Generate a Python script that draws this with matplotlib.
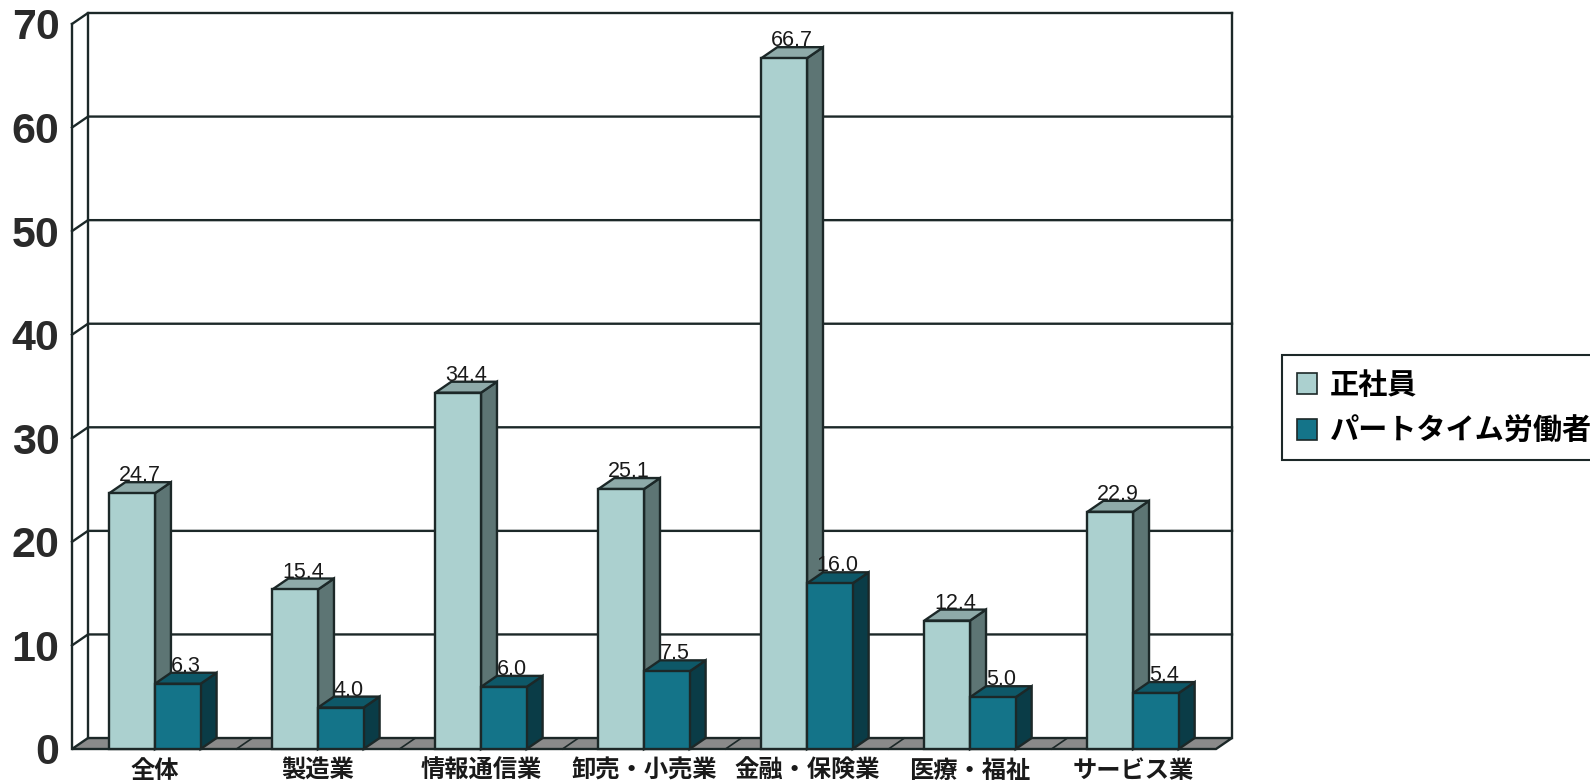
import matplotlib
matplotlib.use("Agg")
import matplotlib.pyplot as plt
from matplotlib.patches import Polygon, Patch
from matplotlib import font_manager

# data
categories = ["全体", "製造業", "情報通信業", "卸売・小売業", "金融・保険業", "医療・福祉", "サービス業"]
seishain = [24.7, 15.4, 34.4, 25.1, 66.7, 12.4, 22.9]
part_time = [6.3, 4.0, 6.0, 7.5, 16.0, 5.0, 5.4]
series_names = ["正社員", "パートタイム労働者"]
y_ticks = [0, 10, 20, 30, 40, 50, 60, 70]

# fonts
installed = {f.name for f in font_manager.fontManager.ttflist}
narrow = next((f for f in ["Liberation Sans Narrow", "Liberation Sans", "DejaVu Sans"]
               if f in installed), "DejaVu Sans")
jp = ["Noto Sans CJK JP", "DejaVu Sans"]

# colours: (front, top, side)
light = ("#abd0cf", "#8eaaa9", "#5d7574")
dark = ("#147489", "#0e5868", "#0a3c47")
edge = "#1c2828"
floor_col = "#8a8a8a"

# 3D depth offsets in data units
dx, dy = 0.098, 1.06
x_left, x_right = -0.509, 6.607
bar_w = 0.28

fig = plt.figure(figsize=(15.9, 7.84), dpi=100)
ax = fig.add_axes([72 / 1590, 1 - 749 / 784, 1160 / 1590, 736 / 784])
ax.set_xlim(x_left, x_right)
ax.set_ylim(0, 70 + dy)
for s in ax.spines.values():
    s.set_visible(False)

lw = 1.7
xf_right = x_right - dx

# floor
ax.add_patch(Polygon([(x_left, 0), (xf_right, 0), (x_right, dy), (x_left + dx, dy)],
                     closed=True, facecolor=floor_col, edgecolor=edge, lw=lw, clip_on=False, zorder=1))
for i in range(len(categories) - 1):
    b = i + 0.5
    ax.plot([b, b + dx], [0, dy], color=edge, lw=1.2, clip_on=False, zorder=1.5)

# walls and gridlines
ax.plot([x_left, x_left], [0, 70], color=edge, lw=lw, clip_on=False, zorder=1)
ax.plot([x_left + dx, x_left + dx], [dy, 70 + dy], color=edge, lw=lw, clip_on=False, zorder=1)
ax.plot([x_right, x_right], [dy, 70 + dy], color=edge, lw=lw, clip_on=False, zorder=1)
for v in y_ticks[1:]:
    ax.plot([x_left, x_left + dx, x_right], [v, v + dy, v + dy], color=edge, lw=lw,
            clip_on=False, zorder=1)


def draw_bar(x0, h, cols, z):
    x1 = x0 + bar_w
    front = Polygon([(x0, 0), (x1, 0), (x1, h), (x0, h)], closed=True,
                    facecolor=cols[0], edgecolor=edge, lw=lw, zorder=z, clip_on=False)
    top = Polygon([(x0, h), (x1, h), (x1 + dx, h + dy), (x0 + dx, h + dy)], closed=True,
                  facecolor=cols[1], edgecolor=edge, lw=lw, zorder=z, clip_on=False)
    side = Polygon([(x1, 0), (x1 + dx, dy), (x1 + dx, h + dy), (x1, h)], closed=True,
                   facecolor=cols[2], edgecolor=edge, lw=lw, zorder=z, clip_on=False)
    for p in (side, top, front):
        ax.add_patch(p)
    ax.text(x0 + bar_w / 2 + dx / 2, h + dy - 0.4, f"{h:.1f}", ha="center", va="bottom",
            fontsize=15.5, family=narrow, color="#1a1a1a", zorder=z + 0.5)


for i, (a, b) in enumerate(zip(seishain, part_time)):
    draw_bar(i - bar_w, a, light, 3 + i * 2)
    draw_bar(i, b, dark, 4 + i * 2)

# axis labels
ax.set_yticks(y_ticks)
ax.set_yticklabels([str(v) for v in y_ticks], fontsize=31, fontweight="bold", family=narrow,
                   color="#2a2a2a")
ax.set_xticks(range(len(categories)))
ax.set_xticklabels(categories, fontsize=17.5, fontweight="bold", family=jp, color="#1a1a1a")
ax.tick_params(axis="y", length=0, pad=9)
ax.tick_params(axis="x", length=0, pad=7)

handles = [Patch(facecolor=light[0], edgecolor=edge, lw=1.2),
           Patch(facecolor=dark[0], edgecolor=edge, lw=1.2)]
leg = fig.legend(handles, series_names, loc="upper left",
                 bbox_to_anchor=(1282 / 1590, 1 - 355 / 784),
                 prop={"family": jp, "weight": "bold", "size": 21},
                 frameon=True, fancybox=False, edgecolor=edge, framealpha=1,
                 handlelength=0.7, handleheight=0.7, handletextpad=0.45,
                 labelspacing=0.55, borderpad=0.5, borderaxespad=0)
leg.get_frame().set_linewidth(1.5)

fig.savefig("out.png", dpi=100, facecolor="white")
